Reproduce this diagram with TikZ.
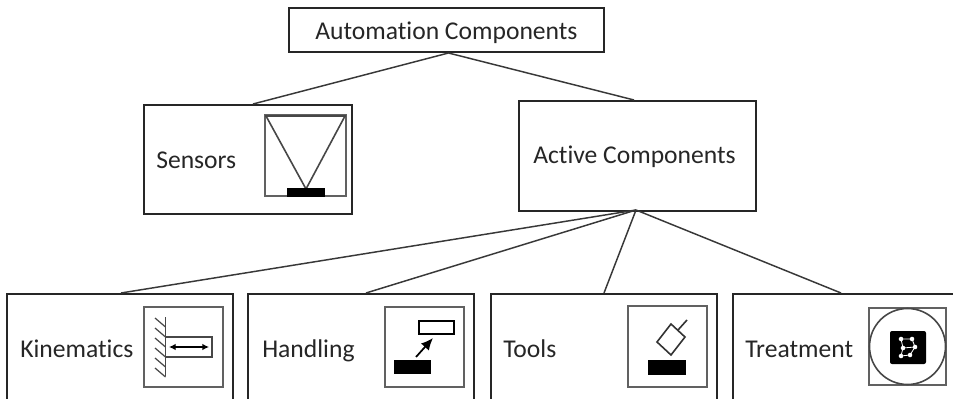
\documentclass[tikz,border=0pt]{standalone}
\usepackage{fontspec}
\setmainfont[RawFeature=-liga]{Carlito}
\usetikzlibrary{arrows.meta}
\tikzset{
  x=0.75pt,y=-0.75pt,
  box/.style={draw=black!85,line width=1.5pt,fill=white,inner sep=0pt,anchor=north west},
  icon/.style={draw=black!62,line width=1.2pt,fill=white},
  ink/.style={draw=black!72,line width=1.2pt},
  solid block/.style={fill=black,draw=black,line width=.3pt},
  conn/.style={draw=black!78,line width=1.1pt},
  lbl/.style={anchor=base west,inner sep=0pt,text=black!85,font=\fontsize{19.2pt}{22pt}\selectfont},
  small arrow/.style={{Latex[length=5pt,width=5pt]}-{Latex[length=5pt,width=5pt]},draw=black,line width=1pt},
  netline/.style={draw=white,line width=.6pt},
  netdot/.style={circle,fill=white,inner sep=0pt,minimum size=3.4pt}
}
\newcommand{\bx}[5]{\node[box,minimum width=#4*0.75pt,minimum height=#5*0.75pt] (#1) at (#2,#3) {};}
\begin{document}
\begin{tikzpicture}
\useasboundingbox (0,0) rectangle (953,399);
\clip (0,0) rectangle (953,399);
\fill[white] (0,0) rectangle (953,399);
% boxes
\bx{auto}{288}{7}{315}{44}
\bx{sens}{143}{104}{208}{109}
\bx{act}{518}{100}{237}{110}
\bx{kin}{6}{293}{226}{130}
\bx{han}{247}{293}{226}{130}
\bx{too}{490}{293}{226}{130}
\bx{tre}{732}{293}{260}{130}
% connectors
\draw[conn] ([xshift=1.5pt]auto.south) -- ([xshift=3.75pt]sens.north);
\draw[conn] ([xshift=1.5pt]auto.south) -- ([xshift=-2.6pt]act.north);
\coordinate (hub) at (636,210);
\draw[conn] (hub) -- ([xshift=0.75pt]kin.north);
\draw[conn] (hub) -- ([xshift=3.75pt]han.north);
\draw[conn] (hub) -- (too.north);
\draw[conn] (hub) -- ([xshift=-0.75pt]tre.north -| 842,293);
% labels
\node[lbl] (tauto) at (315,40) {Automation Components};
\node[lbl] (tsens) at (156,169) {Sensors};
\node[lbl] (tact) at (533,164) {Active Components};
\node[lbl] (tkin) at (20,357) {Kinematics};
\node[lbl] (than) at (262,357) {Handling};
\node[lbl] (ttoo) at (503,357) {Tools};
\node[lbl] (ttre) at (745,357) {Treatment};
% sensors icon
\draw[icon] (265,115) rectangle (346,196);
\draw[ink] (265,116) -- (346,116);
\draw[ink] (266,116) -- (306,189) -- (345,116);
\fill[solid block] (287,188) rectangle (324,196);
% kinematics icon
\draw[icon] (144,307) rectangle (223,387);
\draw[ink] (165.5,317) -- (165.5,376);
\foreach \y in {327,337,347,357,367,377}{\draw[draw=black!72,line width=.9pt] (165.5,\y) -- (155,\y-9);}
\draw[ink] (165.5,337) rectangle (212,357);
\draw[small arrow] (169,347) -- (209,347);
% handling icon
\draw[icon] (385,307) rectangle (464,387);
\draw[draw=black,line width=1.2pt] (419,321) rectangle (454,334);
\fill[solid block] (394,360) rectangle (430,373);
\draw[-{Latex[length=9pt,width=8pt]},draw=black,line width=1.3pt] (416,357) -- (433,338);
% tools icon
\draw[icon] (628,306) rectangle (707,387);
\fill[solid block] (648,360) rectangle (685,374);
\draw[draw=black!80,line width=1.2pt] (671,324) -- (685,337) -- (671,355) -- (657,342) -- cycle;
\draw[draw=black!80,line width=1.2pt] (678,330) -- (687,320);
% treatment icon
\draw[icon] (869,308) rectangle (946,385);
\draw[draw=black!72,line width=1.2pt] (907.5,346.5) circle[radius=38*0.75pt];
\fill[black,rounded corners=1.5pt] (890,331) rectangle (926,364);
\draw[netline] (901,339) -- (912,339) -- (915,347) -- (910,355) -- (901,356) -- (903,348) -- (901,339);
\draw[netline] (903,348) -- (915,347);
\foreach \p in {(901,339),(912,339),(915,347),(910,355),(901,356),(903,348)}{\node[netdot] at \p {};}
\end{tikzpicture}
\end{document}
